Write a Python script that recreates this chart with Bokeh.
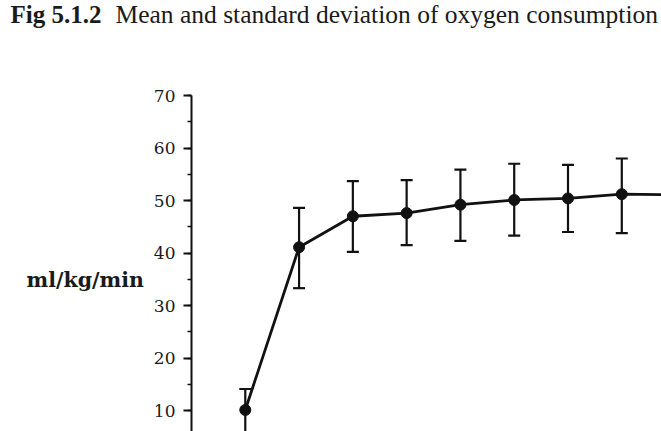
from bokeh.plotting import figure
from bokeh.layouts import column, row
from bokeh.models import (ColumnDataSource, Range1d, SingleIntervalTicker,
                          Whisker, TeeHead)
from bokeh.core.properties import value
from bokeh.embed import file_html
from bokeh.resources import INLINE

# ---- data ----
stage = [1, 2, 3, 4, 5, 6, 7, 8, 9]
mean_vo2 = [10.1, 41.1, 47.0, 47.6, 49.2, 50.1, 50.4, 51.2, 51.1]
upper_sd = [14.1, 48.6, 53.7, 53.9, 55.9, 57.0, 56.8, 58.0, 58.0]
lower_sd = [5.6, 33.3, 40.2, 41.5, 42.3, 43.3, 44.0, 43.8, 44.2]
y_ticks_interval = 10
title_bold = "Fig 5.1.2"
title_rest = "Mean and standard deviation of oxygen consumption"
y_label = "ml/kg/min"

W, H = 661, 431
TITLE_H = 40
LABEL_W = 150
left_px, top_px = 190, 95
px_per_x = 53.9
px_per_y = 5.25
y_top = 70
y_bottom = y_top - (H - top_px) / px_per_y
x_right = (W - left_px) / px_per_x
TEXT = "#1a1a1a"
INK = "#111111"


def blank(w, h):
    f = figure(width=w, height=h, output_backend="svg", toolbar_location=None,
               x_range=Range1d(0, w), y_range=Range1d(0, h),
               x_axis_type=None, y_axis_type=None, title=None,
               min_border_left=0, min_border_right=0,
               min_border_top=0, min_border_bottom=0)
    f.outline_line_color = None
    f.grid.visible = False
    f.background_fill_color = "white"
    f.border_fill_color = "white"
    return f


# ---- title strip ----
tf = blank(W, TITLE_H)
tf.text(x=[10], y=[TITLE_H - 14], text=[title_bold],
        text_font=value("Liberation Serif"), text_font_style="bold",
        text_font_size="25px", text_color=TEXT,
        text_baseline="alphabetic", text_align="left")
tf.text(x=[115], y=[TITLE_H - 14], text=[title_rest],
        text_font=value("Liberation Serif"), text_font_size="25.5px",
        text_color=TEXT, text_baseline="alphabetic", text_align="left")

# ---- y label strip ----
MAIN_H = H - TITLE_H
lf = blank(LABEL_W, MAIN_H)
lf.text(x=[26], y=[MAIN_H - (255 - TITLE_H)], text=[y_label],
        text_font=value("DejaVu Serif"), text_font_style="bold",
        text_font_size="20.5px", text_color=TEXT,
        text_baseline="alphabetic", text_align="left")

# ---- main chart ----
src = ColumnDataSource(dict(x=stage, y=mean_vo2, up=upper_sd, lo=lower_sd))

p = figure(width=W - LABEL_W, height=MAIN_H, output_backend="svg",
           toolbar_location=None,
           x_range=Range1d(0, x_right), y_range=Range1d(y_bottom, y_top),
           x_axis_type=None, title=None,
           min_border_left=left_px - LABEL_W, min_border_top=top_px - TITLE_H,
           min_border_right=0, min_border_bottom=0)
p.outline_line_color = None
p.grid.visible = False
p.background_fill_color = "white"
p.border_fill_color = "white"

ax = p.yaxis[0]
ax.ticker = SingleIntervalTicker(interval=y_ticks_interval, num_minor_ticks=2)
ax.axis_line_width = 2
ax.axis_line_color = INK
ax.major_tick_line_width = 2
ax.major_tick_line_color = INK
ax.major_tick_out = 8
ax.major_tick_in = 0
ax.minor_tick_line_width = 1.5
ax.minor_tick_line_color = INK
ax.minor_tick_out = 4
ax.minor_tick_in = 0
ax.major_label_text_font = "DejaVu Serif"
ax.major_label_text_font_size = "17px"
ax.major_label_text_color = TEXT
ax.major_label_standoff = 8

whisk = Whisker(base="x", upper="up", lower="lo", source=src,
                line_width=2.2, line_color=INK,
                upper_head=TeeHead(size=12, line_width=2.2, line_color=INK),
                lower_head=TeeHead(size=12, line_width=2.2, line_color=INK))
p.add_layout(whisk)

p.line("x", "y", source=src, line_width=2.8, line_color=INK)
p.scatter("x", "y", source=src, size=11, fill_color=INK, line_color=INK)

layout = column(tf, row(lf, p, spacing=0), spacing=0)
open("out.html", "w").write(file_html(layout, INLINE))
